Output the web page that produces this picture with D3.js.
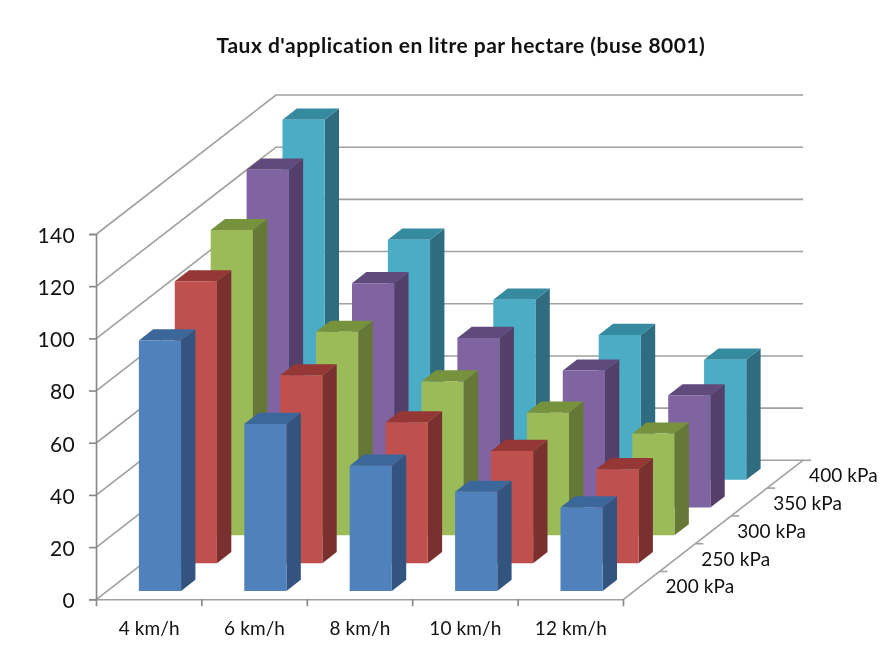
<!DOCTYPE html>
<html>
<head>
<meta charset="utf-8">
<script src="https://cdn.jsdelivr.net/npm/d3@7"></script>
<style>
  html, body { margin: 0; background: #fff; }
  text { font-family: Lato, "Open Sans", sans-serif; fill: #111; }
</style>
</head>
<body>
<div id="chart"></div>
<script>
var speeds = ["4 km/h", "6 km/h", "8 km/h", "10 km/h", "12 km/h"];
var pressures = ["200 kPa", "250 kPa", "300 kPa", "350 kPa", "400 kPa"];

var rate200 = [96, 64, 48, 38, 32];
var rate250 = [108, 72, 54, 43, 36];
var rate300 = [117, 78, 59, 47, 39];
var rate350 = [129.5, 86, 65, 52.5, 43];
var rate400 = [138, 92, 69, 55.5, 46];
var rates = [rate200, rate250, rate300, rate350, rate400];

var yTicks = [0, 20, 40, 60, 80, 100, 120, 140];

var frontColors = ["#4f81bd", "#c0504d", "#9bbb59", "#8064a2", "#4bacc6"];
var sideColors = ["#32547f", "#7a302e", "#657835", "#533f69", "#2f6c7f"];
var topColors = ["#3c679b", "#953735", "#76923c", "#604a7b", "#358a9f"];

var width = 879, height = 654;
var depthX = 179.5, depthY = -139;

var svg = d3.select("#chart")
  .append("svg")
    .attr("width", width)
    .attr("height", height)
    .style("display", "block")
    .style("filter", "blur(0.4px)");

var x = d3.scaleBand().domain(speeds).range([96.5, 623.5]).paddingInner(0.6).paddingOuter(0.3);
var z = d3.scaleBand().domain(pressures).range([0, 1]).paddingInner(0.6).paddingOuter(0.3);
var y = d3.scaleLinear().domain([0, 140]).range([599.3, 234]);

// oblique projection: d is 0 at the front of the floor, 1 at the back wall
function px(xv, d) { return xv + d * depthX; }
function py(yv, d) { return yv + d * depthY; }
function poly(points) {
  return points.map(function(p) { return p[0] + "," + p[1]; }).join(" ");
}

// walls
var grid = svg.append("g")
  .attr("fill", "none")
  .attr("stroke", "#a0a0a0")
  .attr("stroke-width", 1.6);

yTicks.forEach(function(t) {
  grid.append("polyline")
    .attr("points", poly([
      [x.range()[0], y(t)],
      [px(x.range()[0], 1), py(y(t), 1)],
      [px(x.range()[1], 1), py(y(t), 1)]
    ]));
});

// y axis
var yAxis = svg.append("g")
  .attr("transform", "translate(96,0)")
  .call(d3.axisLeft(y).tickValues(yTicks).tickSize(7).tickPadding(14));

// x axis labels + tick marks between the categories
var xAxis = svg.append("g")
  .attr("transform", "translate(0," + y(0) + ")")
  .call(d3.axisBottom(x).tickSize(0).tickPadding(22));

var xEdges = d3.range(speeds.length + 1).map(function(i) { return x.range()[0] + i * x.step(); });
svg.append("g")
  .selectAll("line")
  .data(xEdges)
  .join("line")
    .attr("x1", function(d) { return d; })
    .attr("x2", function(d) { return d; })
    .attr("y1", y(0))
    .attr("y2", y(0) + 7)
    .attr("stroke", "#868686")
    .attr("stroke-width", 1.6);

// depth axis
var depthAxis = svg.append("g");
depthAxis.append("line")
  .attr("x1", x.range()[1])
  .attr("y1", y(0))
  .attr("x2", px(x.range()[1], 1))
  .attr("y2", py(y(0), 1))
  .attr("stroke", "#a0a0a0")
  .attr("stroke-width", 1.6);

depthAxis.selectAll(".dtick")
  .data(d3.range(1, pressures.length + 1))
  .join("line")
    .attr("class", "dtick")
    .attr("x1", function(i) { return px(x.range()[1], i / pressures.length); })
    .attr("x2", function(i) { return px(x.range()[1], i / pressures.length) + 8; })
    .attr("y1", function(i) { return py(y(0), i / pressures.length); })
    .attr("y2", function(i) { return py(y(0), i / pressures.length); })
    .attr("stroke", "#a0a0a0")
    .attr("stroke-width", 1.6);

depthAxis.selectAll("text")
  .data(pressures)
  .join("text")
    .attr("x", function(d) { return px(x.range()[1], z(d) + z.bandwidth() / 2) + 24; })
    .attr("y", function(d) { return py(y(0), z(d) + z.bandwidth() / 2) + 2; })
    .attr("dy", "0.32em")
    .style("font-size", "19px")
    .style("letter-spacing", "0.1px")
    .text(function(d) { return d; });

svg.selectAll(".domain").attr("stroke", "#868686").attr("stroke-width", 1.6);
xAxis.select(".domain").attr("stroke", "#a0a0a0");
yAxis.selectAll(".tick line").attr("stroke", "#868686").attr("stroke-width", 1.6);
yAxis.selectAll("text").attr("dy", "0.4em").style("font-size", "21px").style("letter-spacing", "0.3px");
xAxis.selectAll("text").style("font-size", "19px").style("letter-spacing", "0.1px");

// columns, back row first so the front rows paint over them
d3.range(pressures.length - 1, -1, -1).forEach(function(k) {
  var d0 = z(pressures[k]);
  var d1 = d0 + z.bandwidth();

  var row = svg.append("g");

  speeds.forEach(function(s, i) {
    var xl = x(s), xr = x(s) + x.bandwidth();
    var top = y(rates[k][i]), base = y(0);

    row.append("polygon")
      .attr("fill", sideColors[k])
      .attr("points", poly([
        [px(xr, d0), py(top, d0)],
        [px(xr, d1), py(top, d1)],
        [px(xr, d1), py(base, d1)],
        [px(xr, d0), py(base, d0)]
      ]));

    row.append("polygon")
      .attr("fill", topColors[k])
      .attr("points", poly([
        [px(xl, d0), py(top, d0)],
        [px(xl, d1), py(top, d1)],
        [px(xr, d1), py(top, d1)],
        [px(xr, d0), py(top, d0)]
      ]));

    row.append("polygon")
      .attr("fill", frontColors[k])
      .attr("points", poly([
        [px(xl, d0), py(top, d0)],
        [px(xr, d0), py(top, d0)],
        [px(xr, d0), py(base, d0)],
        [px(xl, d0), py(base, d0)]
      ]));
  });
});

// title
svg.append("text")
  .attr("x", 461)
  .attr("y", 53)
  .attr("text-anchor", "middle")
  .style("font-size", "21px")
  .style("font-weight", "bold")
  .style("letter-spacing", "0.5px")
  .text("Taux d'application en litre par hectare (buse 8001)");
</script>
</body>
</html>
